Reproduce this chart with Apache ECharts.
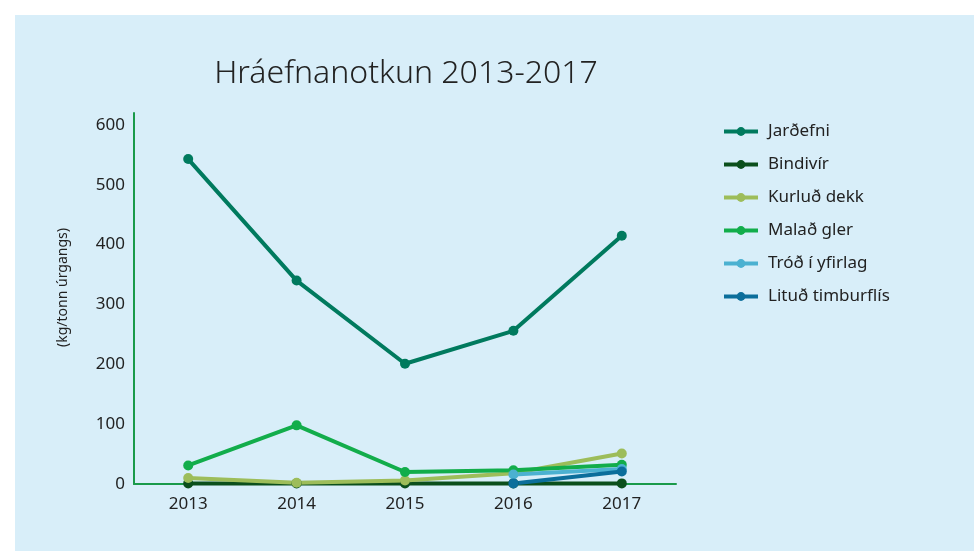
<!DOCTYPE html>
<html>
<head>
<meta charset="utf-8">
<title>Hráefnanotkun 2013-2017</title>
<script src="https://cdn.jsdelivr.net/npm/echarts@6/dist/echarts.min.js"></script>
<style>
    html, body { margin: 0; padding: 0; background: #fff; }
    #chart { width: 974px; height: 551px; }
</style>
</head>
<body>
<div id="chart"></div>
<script>
// ár
var years = ['2013', '2014', '2015', '2016', '2017'];

// kg/tonn úrgangs, lesið af myndinni
var jardefni = [543, 340, 201, 256, 415];
var bindivir = [1, 1, 1, 1, 1];
var kurludDekk = [10, 2, 6, 18, 51];
var maladGler = [31, 98, 20, 23, 32];
var trodYfirlag = [null, null, null, 16, 25];
var litudTimbur = [null, null, null, 1, 21];

var yTicks = [0, 100, 200, 300, 400, 500, 600];

var colors = ['#007a5e', '#0b4f1c', '#9dbd5a', '#12ad4b', '#4bb1d1', '#0b6e9b'];

var chart = echarts.init(document.getElementById('chart'));

function line(name, data, color) {
    return {
        name: name,
        type: 'line',
        data: data,
        symbol: 'circle',
        symbolSize: 10,
        lineStyle: { width: 4, color: color },
        itemStyle: { color: color },
        connectNulls: false
    };
}

var option = {
    animation: false,
    backgroundColor: '#fff',
    graphic: [{
        type: 'rect',
        z: -10,
        shape: { x: 15, y: 15, width: 959, height: 536 },
        style: { fill: '#d8eef9' }
    }],
    title: {
        text: 'Hráefnanotkun 2013-2017',
        left: 401,
        textAlign: 'center',
        top: 53,
        textStyle: {
            fontFamily: 'Noto Sans',
            fontWeight: 300,
            fontSize: 32,
            color: '#222'
        }
    },
    legend: {
        orient: 'vertical',
        left: 722,
        top: 123,
        padding: 0,
        itemWidth: 34,
        itemHeight: 11,
        itemGap: 16,
        lineStyle: { width: 4 },
        textStyle: { fontFamily: 'Noto Sans', fontSize: 17, color: '#222', padding: [0, 0, 0, 5] },
        data: ['Jarðefni', 'Bindivír', 'Kurluð dekk', 'Malað gler', 'Tróð í yfirlag', 'Lituð timburflís']
    },
    grid: { left: 134, right: 298, top: 113, bottom: 67 },
    xAxis: {
        type: 'category',
        data: years,
        boundaryGap: true,
        offset: 2,
        axisLine: { lineStyle: { color: '#1a9a4a', width: 2 } },
        axisTick: { show: false },
        axisLabel: { fontFamily: 'Noto Sans', fontSize: 17, color: '#222', margin: 10 }
    },
    yAxis: {
        type: 'value',
        min: 0,
        max: 620,
        interval: 100,
        name: '(kg/tonn úrgangs)',
        nameLocation: 'middle',
        nameGap: 64,
        nameTextStyle: { fontFamily: 'Noto Sans', fontSize: 14, color: '#222', padding: [0, 0, 0, 22] },
        axisLine: { show: true, lineStyle: { color: '#1a9a4a', width: 2 } },
        axisTick: { show: false },
        splitLine: { show: false },
        axisLabel: {
            showMaxLabel: false,
            fontFamily: 'Noto Sans',
            fontSize: 17,
            color: '#222',
            margin: 9,
            formatter: function (v) { return yTicks.indexOf(v) >= 0 ? v : ''; }
        }
    },
    series: [
        line('Jarðefni', jardefni, colors[0]),
        line('Bindivír', bindivir, colors[1]),
        line('Kurluð dekk', kurludDekk, colors[2]),
        line('Malað gler', maladGler, colors[3]),
        line('Tróð í yfirlag', trodYfirlag, colors[4]),
        line('Lituð timburflís', litudTimbur, colors[5])
    ]
};

chart.setOption(option);
</script>
</body>
</html>
